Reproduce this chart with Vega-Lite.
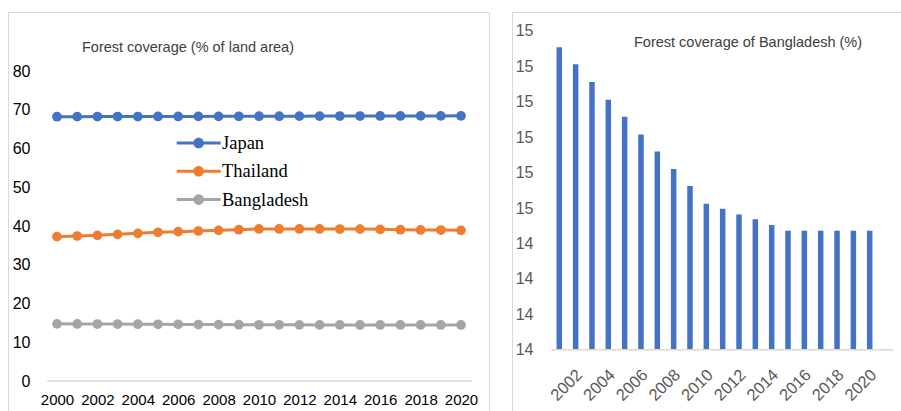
{
  "$schema": "https://vega.github.io/schema/vega-lite/v6.json",
  "padding": {"left": 7, "top": 11, "right": -3, "bottom": -2},
  "spacing": 21,
  "config": {
    "view": {"stroke": "#D9D9D9", "strokeWidth": 1},
    "font": "Liberation Sans",
    "axis": {"grid": false, "ticks": false, "tickSize": 0, "domain": false, "title": null, "labelFont": "Liberation Sans", "labelFontSize": 15}
  },
  "datasets": {
    "countries": [
      {"year": 2000, "country": "Japan", "value": 68.21},
      {"year": 2001, "country": "Japan", "value": 68.22},
      {"year": 2002, "country": "Japan", "value": 68.23},
      {"year": 2003, "country": "Japan", "value": 68.24},
      {"year": 2004, "country": "Japan", "value": 68.25},
      {"year": 2005, "country": "Japan", "value": 68.26},
      {"year": 2006, "country": "Japan", "value": 68.27},
      {"year": 2007, "country": "Japan", "value": 68.28},
      {"year": 2008, "country": "Japan", "value": 68.3},
      {"year": 2009, "country": "Japan", "value": 68.31},
      {"year": 2010, "country": "Japan", "value": 68.33},
      {"year": 2011, "country": "Japan", "value": 68.34},
      {"year": 2012, "country": "Japan", "value": 68.35},
      {"year": 2013, "country": "Japan", "value": 68.36},
      {"year": 2014, "country": "Japan", "value": 68.37},
      {"year": 2015, "country": "Japan", "value": 68.38},
      {"year": 2016, "country": "Japan", "value": 68.39},
      {"year": 2017, "country": "Japan", "value": 68.4},
      {"year": 2018, "country": "Japan", "value": 68.41},
      {"year": 2019, "country": "Japan", "value": 68.41},
      {"year": 2020, "country": "Japan", "value": 68.42},
      {"year": 2000, "country": "Thailand", "value": 37.25},
      {"year": 2001, "country": "Thailand", "value": 37.42},
      {"year": 2002, "country": "Thailand", "value": 37.59},
      {"year": 2003, "country": "Thailand", "value": 37.85},
      {"year": 2004, "country": "Thailand", "value": 38.11},
      {"year": 2005, "country": "Thailand", "value": 38.37},
      {"year": 2006, "country": "Thailand", "value": 38.54},
      {"year": 2007, "country": "Thailand", "value": 38.71},
      {"year": 2008, "country": "Thailand", "value": 38.88},
      {"year": 2009, "country": "Thailand", "value": 39.05},
      {"year": 2010, "country": "Thailand", "value": 39.23},
      {"year": 2011, "country": "Thailand", "value": 39.24},
      {"year": 2012, "country": "Thailand", "value": 39.24},
      {"year": 2013, "country": "Thailand", "value": 39.23},
      {"year": 2014, "country": "Thailand", "value": 39.22},
      {"year": 2015, "country": "Thailand", "value": 39.2},
      {"year": 2016, "country": "Thailand", "value": 39.14},
      {"year": 2017, "country": "Thailand", "value": 39.05},
      {"year": 2018, "country": "Thailand", "value": 38.97},
      {"year": 2019, "country": "Thailand", "value": 38.95},
      {"year": 2020, "country": "Thailand", "value": 38.88},
      {"year": 2000, "country": "Bangladesh", "value": 14.75},
      {"year": 2001, "country": "Bangladesh", "value": 14.727},
      {"year": 2002, "country": "Bangladesh", "value": 14.703},
      {"year": 2003, "country": "Bangladesh", "value": 14.678},
      {"year": 2004, "country": "Bangladesh", "value": 14.653},
      {"year": 2005, "country": "Bangladesh", "value": 14.629},
      {"year": 2006, "country": "Bangladesh", "value": 14.604},
      {"year": 2007, "country": "Bangladesh", "value": 14.58},
      {"year": 2008, "country": "Bangladesh", "value": 14.555},
      {"year": 2009, "country": "Bangladesh", "value": 14.531},
      {"year": 2010, "country": "Bangladesh", "value": 14.506},
      {"year": 2011, "country": "Bangladesh", "value": 14.499},
      {"year": 2012, "country": "Bangladesh", "value": 14.491},
      {"year": 2013, "country": "Bangladesh", "value": 14.484},
      {"year": 2014, "country": "Bangladesh", "value": 14.476},
      {"year": 2015, "country": "Bangladesh", "value": 14.468},
      {"year": 2016, "country": "Bangladesh", "value": 14.468},
      {"year": 2017, "country": "Bangladesh", "value": 14.468},
      {"year": 2018, "country": "Bangladesh", "value": 14.468},
      {"year": 2019, "country": "Bangladesh", "value": 14.468},
      {"year": 2020, "country": "Bangladesh", "value": 14.468}
    ],
    "bangladesh": [
      {"year": 2001, "value": 14.727},
      {"year": 2002, "value": 14.703},
      {"year": 2003, "value": 14.678},
      {"year": 2004, "value": 14.653},
      {"year": 2005, "value": 14.629},
      {"year": 2006, "value": 14.604},
      {"year": 2007, "value": 14.58},
      {"year": 2008, "value": 14.555},
      {"year": 2009, "value": 14.531},
      {"year": 2010, "value": 14.506},
      {"year": 2011, "value": 14.499},
      {"year": 2012, "value": 14.491},
      {"year": 2013, "value": 14.484},
      {"year": 2014, "value": 14.476},
      {"year": 2015, "value": 14.468},
      {"year": 2016, "value": 14.468},
      {"year": 2017, "value": 14.468},
      {"year": 2018, "value": 14.468},
      {"year": 2019, "value": 14.468},
      {"year": 2020, "value": 14.468}
    ]
  },
  "hconcat": [
    {
      "width": 481,
      "height": 402,
      "title": {"text": "Forest coverage (% of land area)", "anchor": "start", "frame": "group", "dx": 74, "offset": -50, "baseline": "middle", "fontSize": 14.5, "fontWeight": "normal", "color": "#404040", "font": "Liberation Sans"},
      "layer": [
        {
          "data": {"name": "countries"},
          "mark": {"type": "line", "strokeWidth": 3},
          "encoding": {
            "x": {"field": "year", "type": "quantitative", "scale": {"domain": [1997.574, 2021.386], "nice": false, "zero": false},
                  "axis": {"values": [2000, 2002, 2004, 2006, 2008, 2010, 2012, 2014, 2016, 2018, 2020], "format": "d", "offset": -33, "labelPadding": 11, "labelColor": "#000000", "labelFlush": false, "labelOverlap": false}},
            "y": {"field": "value", "type": "quantitative", "scale": {"domain": [-8.516, 95.226], "nice": false, "zero": false},
                  "axis": {"values": [0, 10, 20, 30, 40, 50, 60, 70, 80], "offset": -26, "labelPadding": 4, "labelColor": "#000000", "labelFontSize": 16}},
            "color": {"field": "country", "type": "nominal",
                      "scale": {"domain": ["Japan", "Thailand", "Bangladesh"], "range": ["#4472C4", "#ED7D31", "#A5A5A5"]},
                      "legend": {"orient": "none", "legendX": 180.7, "legendY": 121, "title": null, "padding": 0,
                                 "symbolType": "M -2.2 -0.15 L -0.5 -0.15 L -0.5 0.15 L -2.2 0.15 Z M 0.5 -0.15 L 2.2 -0.15 L 2.2 0.15 L 0.5 0.15 Z M 0 -0.53 A 0.53 0.53 0 1 1 0 0.53 A 0.53 0.53 0 1 1 0 -0.53 Z",
                                 "symbolSize": 400, "symbolStrokeWidth": 0, "symbolOpacity": 1,
                                 "labelFont": "Liberation Serif", "labelFontSize": 18.5, "labelColor": "#000000", "labelOffset": 13.3, "rowPadding": 8.3}}
          }
        },
        {
          "data": {"name": "countries"},
          "mark": {"type": "point", "filled": true, "size": 95, "opacity": 1},
          "encoding": {
            "x": {"field": "year", "type": "quantitative"},
            "y": {"field": "value", "type": "quantitative"},
            "color": {"field": "country", "type": "nominal",
                      "legend": {"orient": "none", "legendX": 180.7, "legendY": 121, "title": null, "padding": 0,
                                 "symbolType": "M -2.2 -0.15 L -0.5 -0.15 L -0.5 0.15 L -2.2 0.15 Z M 0.5 -0.15 L 2.2 -0.15 L 2.2 0.15 L 0.5 0.15 Z M 0 -0.53 A 0.53 0.53 0 1 1 0 0.53 A 0.53 0.53 0 1 1 0 -0.53 Z",
                                 "symbolSize": 400, "symbolStrokeWidth": 0, "symbolOpacity": 1,
                                 "labelFont": "Liberation Serif", "labelFontSize": 18.5, "labelColor": "#000000", "labelOffset": 13.3, "rowPadding": 8.3}}
          }
        },
        {
          "data": {"values": [{}]},
          "mark": {"type": "rule", "color": "#D9D9D9", "strokeWidth": 1.5},
          "encoding": {
            "x": {"datum": 1999.505, "type": "quantitative"},
            "x2": {"datum": 2020.53},
            "y": {"datum": 0, "type": "quantitative"}
          }
        }
      ]
    },
    {
      "width": 392,
      "height": 402,
      "title": {"text": "Forest coverage of Bangladesh (%)", "anchor": "start", "frame": "group", "dx": 122, "offset": -45, "baseline": "middle", "fontSize": 14.5, "fontWeight": "normal", "color": "#404040", "font": "Liberation Sans"},
      "layer": [
        {
          "data": {"name": "bangladesh"},
          "mark": {"type": "bar", "size": 5.5, "color": "#4472C4"},
          "encoding": {
            "x": {"field": "year", "type": "quantitative", "scale": {"domain": [1998.105, 2022.0996], "nice": false, "zero": false, "padding": 0},
                  "axis": {"values": [2002, 2004, 2006, 2008, 2010, 2012, 2014, 2016, 2018, 2020], "format": "d", "offset": -64.3, "labelAngle": -45, "labelAlign": "right", "labelBaseline": "top", "labelPadding": 16.5, "labelOffset": -2, "labelFontSize": 16.5, "labelColor": "#595959", "labelFlush": false, "labelOverlap": false}},
            "y": {"field": "value", "type": "quantitative", "scale": {"domain": [14.2092, 14.7768], "nice": false, "zero": false},
                  "axis": {"values": [14.3, 14.35, 14.4, 14.45, 14.5, 14.55, 14.6, 14.65, 14.7, 14.75], "format": ".0f", "offset": -25, "labelPadding": 4, "labelColor": "#595959", "labelFontSize": 16}},
            "y2": {"datum": 14.3}
          }
        },
        {
          "data": {"values": [{}]},
          "mark": {"type": "rule", "color": "#D9D9D9", "strokeWidth": 1.5},
          "encoding": {
            "x": {"datum": 2000.51, "type": "quantitative"},
            "x2": {"datum": 2021.445},
            "y": {"datum": 14.3, "type": "quantitative"}
          }
        }
      ]
    }
  ]
}
